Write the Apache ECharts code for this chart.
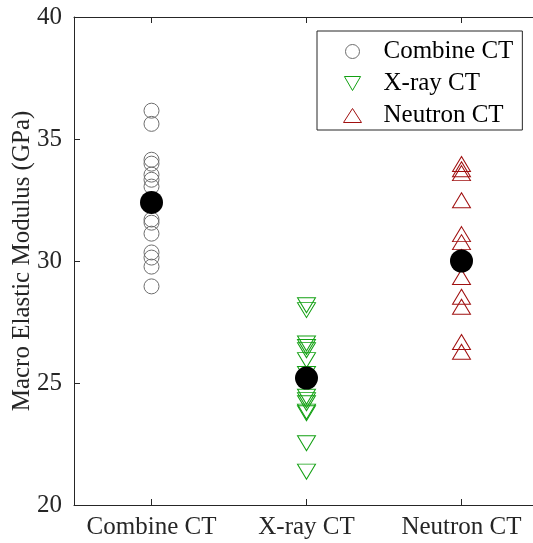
<!DOCTYPE html>
<html>
<head>
<meta charset="utf-8">
<script src="https://cdn.jsdelivr.net/npm/echarts@6/dist/echarts.min.js"></script>
<style>
  html, body { margin: 0; padding: 0; background: #fff; }
  #chart { width: 533px; height: 543px; }
</style>
</head>
<body>
<div id="chart"></div>
<script>
// Measurement groups and per-sample macro elastic modulus (GPa)
const groups = ['Combine CT', 'X-ray CT', 'Neutron CT'];
const combineCT = [36.16, 35.62, 34.15, 33.99, 33.54, 33.33, 33.05, 31.70, 31.57, 31.12, 30.35, 30.14, 29.77, 28.96];
const xrayCT = [28.29, 28.09, 26.72, 26.58, 26.45, 26.04, 25.47, 24.54, 24.40, 24.27, 23.93, 23.86, 22.63, 21.47];
const neutronCT = [33.87, 33.66, 33.50, 32.39, 31.00, 30.67, 30.06, 29.24, 28.43, 28.02, 26.58, 26.18];
// Group averages (filled black dots)
const groupMeans = [32.4, 25.2, 30.0];
// Value axis range
const yMin = 20, yMax = 40, yStep = 5;

const FONT = 'Liberation Serif';
const AXIS = '#262626';
const TRI_DOWN = 'path://M0,0L20,0L10,17.32Z';

function pairs(name, values) {
  return values.map(v => [name, v]);
}

const chart = echarts.init(document.getElementById('chart'), null, { renderer: 'canvas' });

const option = {
  backgroundColor: '#fff',
  animation: false,
  grid: { left: 74, top: 17, width: 465, height: 488, containLabel: false, outerBoundsMode: 'none' },
  legend: {
    orient: 'vertical',
    left: 317,
    top: 31,
    padding: [8, 9, 2, 26],
    itemGap: 7,
    itemWidth: 18,
    itemHeight: 14,
    borderColor: AXIS,
    borderWidth: 1,
    backgroundColor: '#fff',
    itemStyle: { borderWidth: 1 },
    textStyle: { fontFamily: FONT, fontSize: 25, lineHeight: 25, color: '#000', padding: [0, 0, 0, 17] },
    data: ['Combine CT', 'X-ray CT', 'Neutron CT']
  },
  xAxis: [
    {
      type: 'category',
      data: groups,
      boundaryGap: true,
      position: 'bottom',
      axisLine: { show: true, lineStyle: { color: AXIS, width: 1 } },
      axisTick: { show: true, inside: true, length: 6, alignWithLabel: true, lineStyle: { color: AXIS } },
      axisLabel: { interval: 0, fontFamily: FONT, fontSize: 25, color: AXIS, margin: 10 },
      splitLine: { show: false }
    },
    {
      type: 'category',
      data: groups,
      boundaryGap: true,
      position: 'top',
      axisLine: { show: true, lineStyle: { color: AXIS, width: 1 } },
      axisTick: { show: true, inside: true, length: 6, alignWithLabel: true, lineStyle: { color: AXIS } },
      axisLabel: { show: false },
      splitLine: { show: false }
    }
  ],
  yAxis: {
    type: 'value',
    min: yMin,
    max: yMax,
    interval: yStep,
    name: 'Macro Elastic Modulus (GPa)',
    nameLocation: 'middle',
    nameGap: 39,
    nameMoveOverlap: false,
    nameTextStyle: { fontFamily: FONT, fontSize: 25, color: AXIS },
    axisLine: { show: true, lineStyle: { color: AXIS, width: 1 } },
    axisTick: { show: true, inside: true, length: 6, lineStyle: { color: AXIS } },
    axisLabel: { fontFamily: FONT, fontSize: 25, color: AXIS, margin: 12 },
    splitLine: { show: false }
  },
  series: [
    {
      name: 'Combine CT',
      type: 'scatter',
      symbol: 'circle',
      symbolSize: 15,
      itemStyle: { color: 'rgba(0,0,0,0)', borderColor: '#6e6e6e', borderWidth: 1, opacity: 1 },
      emphasis: { disabled: true },
      data: pairs('Combine CT', combineCT),
      z: 2
    },
    {
      name: 'X-ray CT',
      type: 'scatter',
      symbol: TRI_DOWN,
      symbolSize: [18, 15],
      symbolOffset: [0, 2.5],
      itemStyle: { color: 'rgba(0,0,0,0)', borderColor: '#12a012', borderWidth: 1, opacity: 1 },
      emphasis: { disabled: true },
      data: pairs('X-ray CT', xrayCT),
      z: 2
    },
    {
      name: 'Neutron CT',
      type: 'scatter',
      symbol: 'triangle',
      symbolSize: [18, 15],
      symbolOffset: [0, -2.5],
      itemStyle: { color: 'rgba(0,0,0,0)', borderColor: '#a01010', borderWidth: 1, opacity: 1 },
      emphasis: { disabled: true },
      data: pairs('Neutron CT', neutronCT),
      z: 2
    },
    {
      name: 'Mean',
      type: 'scatter',
      symbol: 'circle',
      symbolSize: 23,
      itemStyle: { color: '#000', opacity: 1 },
      emphasis: { disabled: true },
      data: groups.map((g, i) => [g, groupMeans[i]]),
      z: 3
    }
  ]
};

chart.setOption(option);
</script>
</body>
</html>
